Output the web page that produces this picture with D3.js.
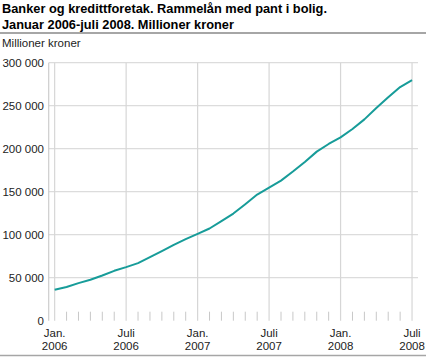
<!DOCTYPE html>
<html lang="no">
<head>
  <meta charset="UTF-8">
  <title>Rammelån med pant i bolig</title>
  <script src="https://d3js.org/d3.v7.min.js"></script>
  <style>
    body { margin: 0; background: #fff; font-family: "Liberation Sans", Arial, sans-serif; }
    svg { display: block; }
    .title { font-size: 12.8px; font-weight: bold; fill: #000; }
    .tick-label { font-size: 11.5px; fill: #222; }
  </style>
</head>
<body>
  <svg id="chart" width="426" height="358"></svg>
  <script>
    // måneder jan 2006 - juli 2008
    const months = d3.range(31).map(i => new Date(2006, i, 1));
    // rammelån, millioner kroner
    const values = [
      36000, 39100, 43700, 47600, 52600, 58000, 62300, 67000, 73900, 80900,
      88200, 94800, 101000, 107200, 115700, 124600, 135400, 146700, 154800, 162900,
      173400, 184600, 196600, 205500, 213200, 222900, 234100, 247300, 259700, 271700,
      279800
    ];
    const yTicks = [0, 50000, 100000, 150000, 200000, 250000, 300000];
    const monthNames = { 0: 'Jan.', 6: 'Juli' };

    const svg = d3.select('#chart');
    const plotLeft = 48.7, plotRight = 418, plotTop = 62.7, plotBottom = 320.7;

    const x = d3.scalePoint().domain(d3.range(months.length)).range([plotLeft, plotRight]).padding(0.5);
    const y = d3.scaleLinear().domain([0, 300000]).range([plotBottom, plotTop]);
    const fmt = v => d3.format(',')(v).replace(/,/g, '\u00a0');

    // tittel
    svg.append('text').attr('class', 'title').attr('x', 2).attr('y', 13)
      .text('Banker og kredittforetak. Rammelån med pant i bolig.');
    svg.append('text').attr('class', 'title').attr('x', 2).attr('y', 28.5)
      .text('Januar 2006-juli 2008. Millioner kroner');
    svg.append('line').attr('x1', 0).attr('x2', 426).attr('y1', 33).attr('y2', 33)
      .attr('stroke', '#a6a6a6').attr('stroke-width', 2);
    svg.append('text').attr('class', 'tick-label').attr('x', 2).attr('y', 47)
      .text('Millioner kroner');

    // horisontale rutenett
    svg.append('g').selectAll('line')
      .data(yTicks.filter(d => d > 0))
      .join('line')
      .attr('x1', plotLeft).attr('x2', plotRight)
      .attr('y1', d => y(d)).attr('y2', d => y(d))
      .attr('stroke', '#dcdcdc').attr('stroke-width', 1.2);

    // venstre akse
    svg.append('line').attr('x1', plotLeft).attr('x2', plotLeft).attr('y1', plotTop).attr('y2', plotBottom)
      .attr('stroke', '#cccccc').attr('stroke-width', 1.2);

    // vertikale rutenett ved jan/juli
    const majors = d3.range(months.length).filter(i => months[i].getMonth() in monthNames);
    svg.append('g').selectAll('line')
      .data(majors)
      .join('line')
      .attr('x1', d => x(d)).attr('x2', d => x(d))
      .attr('y1', plotTop).attr('y2', plotBottom)
      .attr('stroke', '#d6d6d6').attr('stroke-width', 1.2);

    // små månedsmerker
    svg.append('g').selectAll('line')
      .data(d3.range(months.length).filter(i => !majors.includes(i)))
      .join('line')
      .attr('x1', d => x(d)).attr('x2', d => x(d))
      .attr('y1', plotBottom - 9).attr('y2', plotBottom)
      .attr('stroke', '#c8c8c8').attr('stroke-width', 1);

    // y-etiketter
    svg.append('g').selectAll('text')
      .data(yTicks)
      .join('text')
      .attr('class', 'tick-label')
      .attr('x', 44).attr('y', d => y(d) + 4)
      .attr('text-anchor', 'end')
      .text(fmt);

    // x-etiketter
    const xl = svg.append('g').selectAll('text')
      .data(majors)
      .join('text')
      .attr('class', 'tick-label')
      .attr('text-anchor', 'middle');
    xl.append('tspan').attr('x', d => x(d)).attr('y', 337).text(d => monthNames[months[d].getMonth()]);
    xl.append('tspan').attr('x', d => x(d)).attr('y', 349.5).text(d => months[d].getFullYear());

    // linje
    svg.append('path')
      .datum(values)
      .attr('fill', 'none')
      .attr('stroke', '#179c99')
      .attr('stroke-width', 2)
      .attr('stroke-linejoin', 'round')
      .attr('d', d3.line().x((d, i) => x(i)).y(d => y(d)));

    // bunnlinje
    svg.append('line').attr('x1', 0).attr('x2', 426).attr('y1', 355.5).attr('y2', 355.5)
      .attr('stroke', '#a6a6a6').attr('stroke-width', 1.5);
  </script>
</body>
</html>
